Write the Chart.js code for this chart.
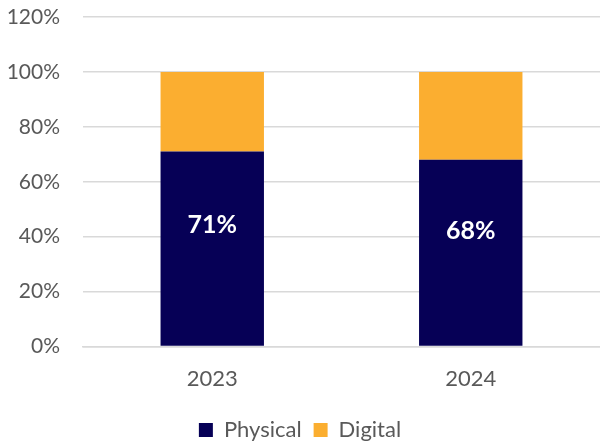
<!DOCTYPE html>
<html lang="en">
<head>
    <meta charset="UTF-8">
    <title>Physical vs Digital</title>
    <script src="https://cdn.jsdelivr.net/npm/chart.js"></script>
    <style>
        body { margin: 0; background: #ffffff; }
        #wrap { width: 600px; height: 442px; }
    </style>
</head>
<body>
<div id="wrap">
    <canvas id="grafico"></canvas>
</div>
<script>
    // data
    var anos = ['2023', '2024'];
    var fisico = [71, 68];
    var digital = [29, 32];
    var seriesNomes = ['Physical', 'Digital'];
    var yTicks = [0, 20, 40, 60, 80, 100, 120];

    var fonte = 'Lato, "Open Sans", sans-serif';
    var cinza = '#595959';

    // legend box is a bit tall by default, trim it so the plot gets the room
    if (Chart.Legend && Chart.Legend._element) {
        var LegendaEl = Chart.Legend._element;
        var fitOrig = LegendaEl.prototype.fit;
        LegendaEl.prototype.fit = function() {
            fitOrig.call(this);
            this.height -= 9;
        };
    }

    // draws the white % label inside the Physical bars
    var rotulos = {
        id: 'rotulos',
        afterDatasetsDraw: function(chart) {
            var ctx = chart.ctx;
            var meta = chart.getDatasetMeta(0);
            ctx.save();
            ctx.fillStyle = '#ffffff';
            ctx.font = 'bold 25px ' + fonte;
            ctx.textAlign = 'center';
            ctx.textBaseline = 'middle';
            meta.data.forEach(function(bar, i) {
                var y = bar.y + (bar.base - bar.y) * 0.38;
                ctx.fillText(fisico[i] + '%', bar.x, y);
            });
            ctx.restore();
        }
    };

    new Chart(document.getElementById('grafico'), {
        type: 'bar',
        data: {
            labels: anos,
            datasets: [{
                label: seriesNomes[0],
                data: fisico,
                backgroundColor: '#060056',
                barPercentage: 0.4,
                categoryPercentage: 1
            }, {
                label: seriesNomes[1],
                data: digital,
                backgroundColor: '#FBAE30',
                barPercentage: 0.4,
                categoryPercentage: 1
            }]
        },
        options: {
            responsive: true,
            maintainAspectRatio: false,
            animation: false,
            layout: { padding: { top: 17, right: 0, left: 0, bottom: 0 } },
            plugins: {
                tooltip: { enabled: false },
                legend: {
                    position: 'bottom',
                    labels: {
                        boxWidth: 14,
                        boxHeight: 14,
                        padding: 12,
                        color: cinza,
                        font: { family: fonte, size: 22 }
                    }
                }
            },
            scales: {
                x: {
                    stacked: true,
                    grid: { display: false, drawTicks: false },
                    border: { display: true, color: '#d9d9d9', width: 1.5 },
                    afterFit: function(axis) { axis.height -= 4; },
                    ticks: {
                        color: cinza,
                        padding: 19,
                        font: { family: fonte, size: 22 }
                    }
                },
                y: {
                    stacked: true,
                    min: 0,
                    max: 120,
                    afterBuildTicks: function(axis) {
                        axis.ticks = yTicks.map(function(v) { return { value: v }; });
                    },
                    afterFit: function(axis) {
                        axis.width = 83;
                        axis.paddingTop = 0;
                        axis.paddingBottom = 0;
                    },
                    grid: { color: '#d9d9d9', lineWidth: 1.5, drawTicks: false },
                    border: { display: false },
                    ticks: {
                        color: cinza,
                        padding: 23,
                        font: { family: fonte, size: 21 },
                        callback: function(v) { return v + '%'; }
                    }
                }
            }
        },
        plugins: [rotulos]
    });
</script>
</body>
</html>
